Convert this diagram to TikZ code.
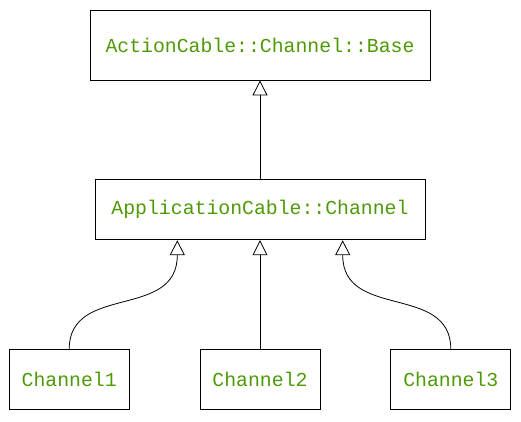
\documentclass[tikz,border=0pt]{standalone}
\usepackage{fontspec}
\setmonofont{Liberation Mono}
\usetikzlibrary{arrows.meta,positioning,calc}
\definecolor{clsgreen}{RGB}{78,154,6}

\begin{document}
\begin{tikzpicture}[
    x=1pt, y=1pt,
    cls/.style={draw, line width=0.8pt, minimum height=60pt, inner sep=0pt,
      font=\ttfamily\fontsize{19.8pt}{24pt}\selectfont, text=clsgreen},
    inherit/.style={-{Triangle[open, length=15pt, width=15pt]}, line width=0.8pt},
  ]
  \useasboundingbox (-260,45) rectangle (261,-376);

  \node[cls, minimum width=340pt, minimum height=70pt] (base) at (0,0) {ActionCable::Channel::Base};
  \node[cls, minimum width=330pt, below=99pt of base] (appcable) {ApplicationCable::Channel};
  \node[cls, minimum width=120pt, below=109pt of appcable] (chan2) {Channel2};
  \node[cls, minimum width=120pt, left=70pt of chan2] (chan1) {Channel1};
  \node[cls, minimum width=120pt, right=70pt of chan2] (chan3) {Channel3};

  \coordinate (in1) at ($(appcable.south west)!0.25!(appcable.south east)$);
  \coordinate (in3) at ($(appcable.south west)!0.75!(appcable.south east)$);

  \draw[inherit] (appcable) -- (base);
  \draw[inherit] (chan2) -- (appcable);
  \draw[inherit] (chan1.north) .. controls ($(chan1.north)+(0,66)$) and ($(in1)+(0,-80)$) .. ($(in1)+(0,-15)$) -- (in1);
  \draw[inherit] (chan3.north) .. controls ($(chan3.north)+(0,66)$) and ($(in3)+(0,-80)$) .. ($(in3)+(0,-15)$) -- (in3);
\end{tikzpicture}
\end{document}
